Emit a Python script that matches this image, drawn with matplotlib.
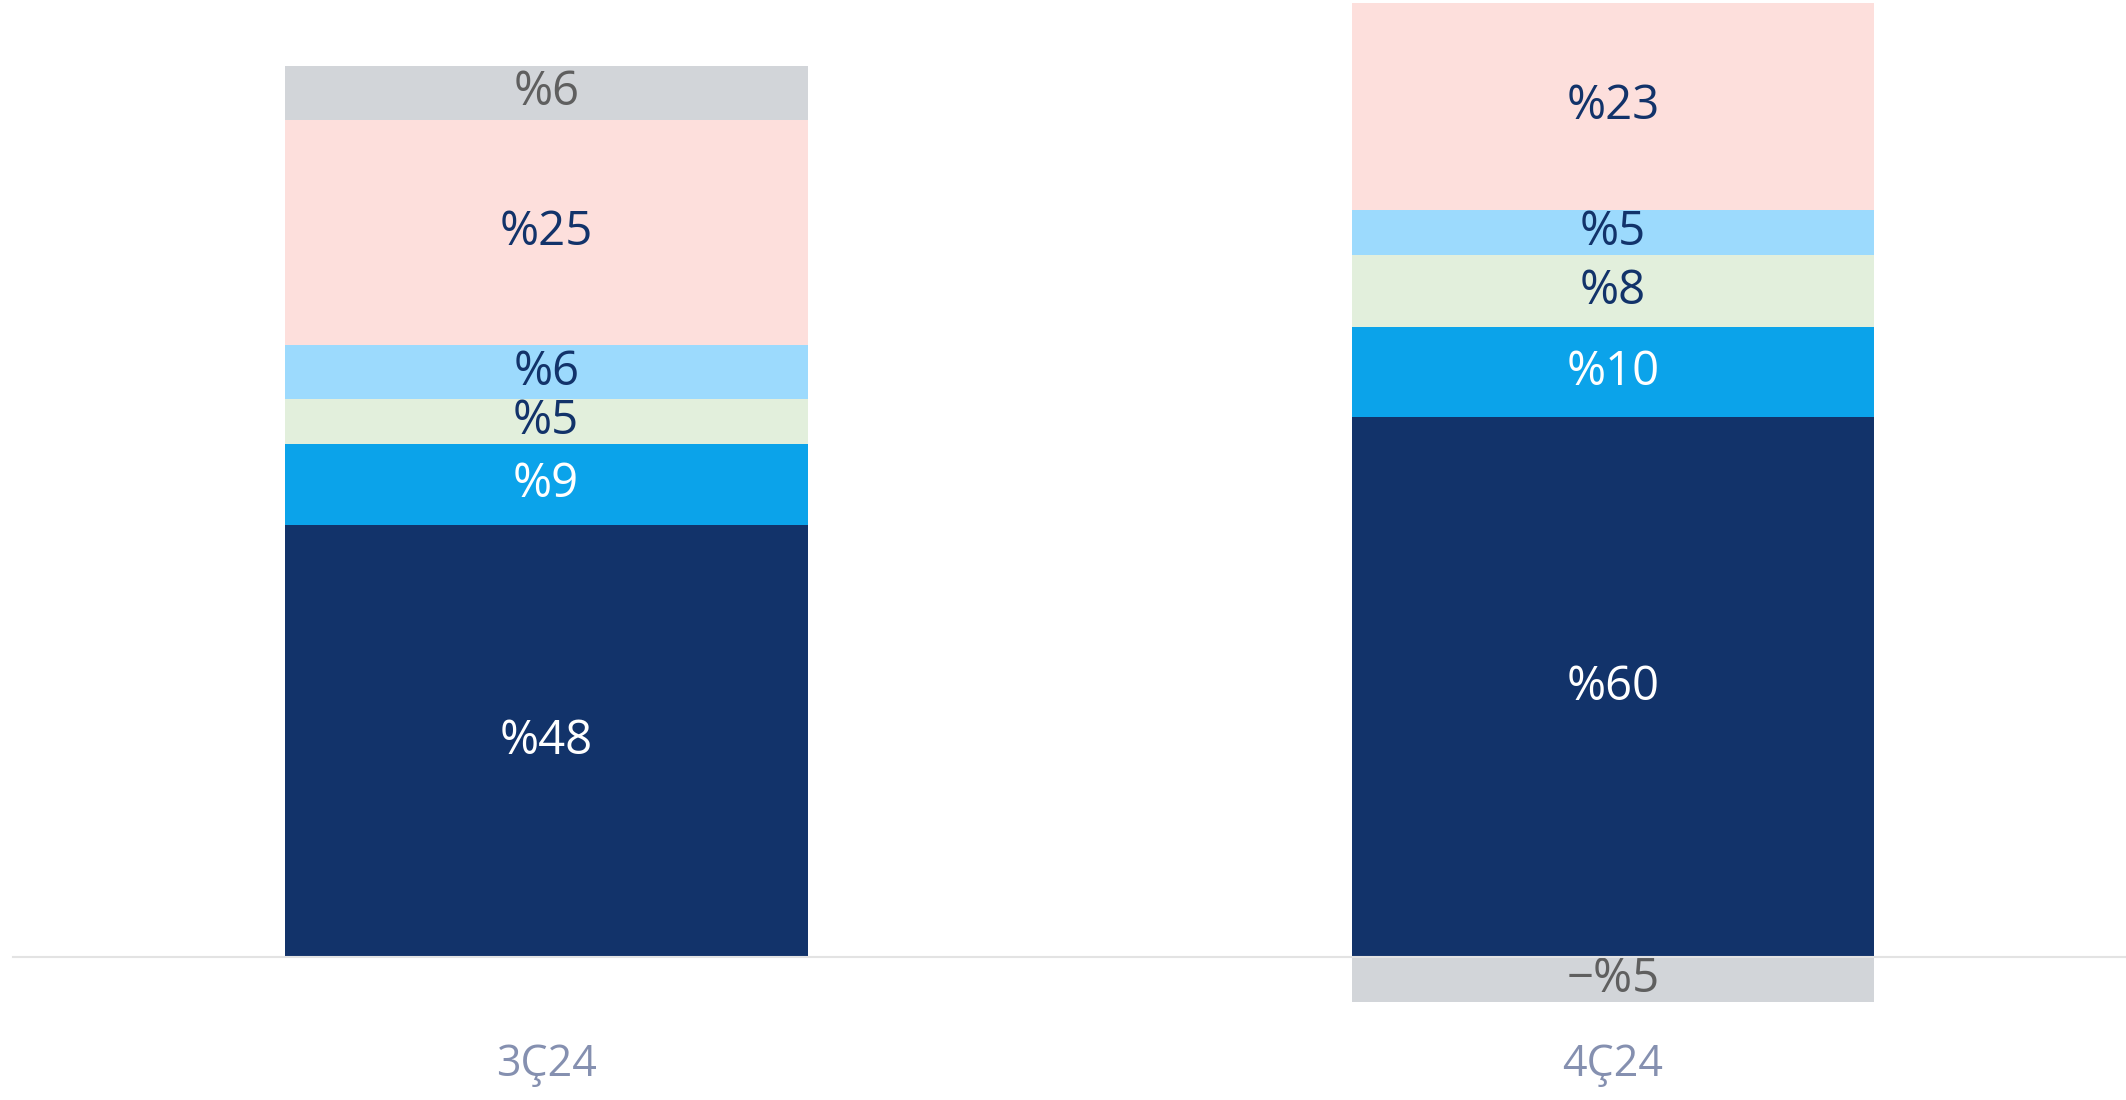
import matplotlib.pyplot as plt

categories = ['3Ç24', '4Ç24']
dark = [48, 60]
bright = [9, 10]
green = [5, 8]
light_blue = [6, 5]
pink = [25, 23]
gray = [6, -5]

colors = ['#12336a', '#0ba3ea', '#e2efdc', '#9cdafd', '#fddfdc', '#d2d5d9']
text_colors = ['white', 'white', '#12336a', '#12336a', '#12336a', '#5f5f5f']

plt.rcParams['font.family'] = ['Open Sans', 'DejaVu Sans']

fig = plt.figure(figsize=(21.26, 11), dpi=100)
ax = fig.add_axes([0, 0, 1, 1])

x = [0, 1]
width = 0.49
series = [dark, bright, green, light_blue, pink, gray]

pos_bottom = [0, 0]
for vals, col, tcol in zip(series, colors, text_colors):
    for i, v in enumerate(vals):
        if v >= 0:
            b = pos_bottom[i]
            pos_bottom[i] += v
        else:
            b = 0
        ax.bar(x[i], v, width, bottom=b, color=col, linewidth=0)
        lbl = ('−%' + str(-v)) if v < 0 else ('%' + str(v))
        ax.text(x[i], b + v / 2, lbl, ha='center', va='center',
                fontsize=34, color=tcol)

ax.axhline(0, xmin=13 / 2126, xmax=1, color='#e3e3e3', linewidth=1.5, zorder=3)

for i, c in enumerate(categories):
    ax.text(x[i], -12, c, ha='center', va='center', fontsize=31, color='#8590b0')

ax.set_xlim(-0.512, 1.481)
ax.set_ylim(-15.9, 106.3)
ax.axis('off')

plt.savefig('out.png', dpi=100)
